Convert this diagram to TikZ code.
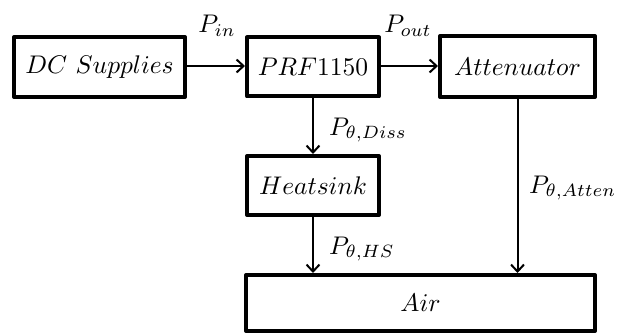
\documentclass[tikz,border=0pt]{standalone}
\usepackage{graphicx}
\usetikzlibrary{arrows.meta}
\newcommand\sktxt[1]{\scalebox{2.55}{$#1$}}
\begin{document}
\begin{tikzpicture}[x=1pt,y=-1pt,
  blk/.style={draw=black, line width=4pt, line join=round, inner sep=0pt},
  flow/.style={line width=2pt, -{Straight Barb[length=7pt,width=13pt,line width=2pt]}},
  lbl/.style={inner sep=0pt}]
\useasboundingbox (0,0) rectangle (626,334);
\node[blk, minimum width=171pt, minimum height=60pt] (dc) at (99.5,67) {\sktxt{DC\ Supplies}};
\node[blk, minimum width=132pt, minimum height=59pt] (prf) at (313,67) {\sktxt{PRF1150}};
\node[blk, minimum width=155pt, minimum height=61pt] (att) at (517.5,66.5) {\sktxt{Attenuator}};
\node[blk, minimum width=132pt, minimum height=59pt] (hs) at (313,185.5) {\sktxt{Heatsink}};
\node[blk, minimum width=349pt, minimum height=56pt] (air) at (420.5,303) {\sktxt{Air}};
\draw[flow] (dc.east |- 0,66) -- (prf.west |- 0,66);
\draw[flow] (prf.east |- 0,66) -- (att.west |- 0,66);
\draw[flow] (prf.south) -- (hs.north);
\draw[flow] (hs.south) -- (hs.south |- air.north);
\draw[flow] (att.south) -- (att.south |- air.north);
\node[lbl] (pin) at (217,26) {\sktxt{P_{in}}};
\node[lbl] (pout) at (408,26) {\sktxt{P_{out}}};
\node[lbl, anchor=west] (pdiss) at (329,130) {\sktxt{P_{\theta,Diss}}};
\node[lbl, anchor=west] (phs) at (329,249) {\sktxt{P_{\theta,HS}}};
\node[lbl, anchor=west] (patt) at (529,188) {\sktxt{P_{\theta,Atten}}};
\end{tikzpicture}
\end{document}
